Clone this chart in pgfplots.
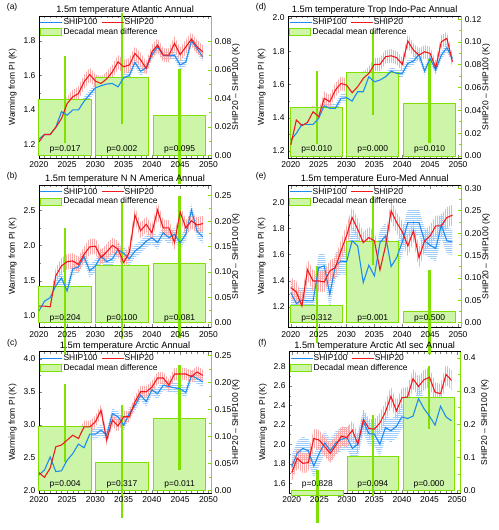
\documentclass[border=0pt]{standalone}
\usepackage{fontspec}
\setmainfont{Liberation Sans}
\usepackage{pgfplots}
\usepackage{pgfplotstable}
\pgfplotsset{compat=1.18}
\usepgfplotslibrary{fillbetween}
\usetikzlibrary{patterns}

\definecolor{cblue}{RGB}{30,140,240}
\definecolor{cred}{RGB}{240,25,30}
\definecolor{bband}{RGB}{160,205,250}
\definecolor{rband}{RGB}{250,172,172}
\definecolor{gline}{RGB}{128,224,0}
\definecolor{gfill}{RGB}{204,245,168}

\pgfdeclarepatterninherentlycolored{hlb}{\pgfqpoint{-1pt}{-1pt}}{\pgfqpoint{11pt}{3pt}}{\pgfqpoint{10pt}{2pt}}{%
  \pgfsetcolor{bband}\pgfsetlinewidth{0.55pt}\pgfpathmoveto{\pgfqpoint{-1pt}{1pt}}\pgfpathlineto{\pgfqpoint{11pt}{1pt}}\pgfusepath{stroke}}
\pgfdeclarepatterninherentlycolored{vlr}{\pgfqpoint{-1pt}{-1pt}}{\pgfqpoint{3pt}{11pt}}{\pgfqpoint{2pt}{10pt}}{%
  \pgfsetcolor{rband}\pgfsetlinewidth{0.55pt}\pgfpathmoveto{\pgfqpoint{1pt}{-1pt}}\pgfpathlineto{\pgfqpoint{1pt}{11pt}}\pgfusepath{stroke}}

\newcommand\fs{\fontsize{8.5}{9}\selectfont}
\newcommand\ft{\fontsize{9.3}{10}\selectfont}

\pgfplotstableread{
yr b r
2020 1.231 1.215
2021 1.258 1.258
2022 1.258 1.258
2023 1.30 1.30
2024 1.39 1.35
2025 1.37 1.437
2026 1.40 1.476
2027 1.40 1.495
2028 1.45 1.563
2029 1.49 1.605
2030 1.528 1.567
2031 1.54 1.553
2032 1.55 1.58
2033 1.553 1.62
2034 1.534 1.678
2035 1.586 1.65
2036 1.60 1.66
2037 1.675 1.727
2038 1.624 1.69
2039 1.644 1.64
2040 1.717 1.736
2041 1.765 1.775
2042 1.717 1.717
2043 1.713 1.717
2044 1.717 1.785
2045 1.66 1.72
2046 1.678 1.765
2047 1.80 1.81
2048 1.755 1.765
2049 1.707 1.736
}\tA

\pgfplotstableread{
yr b r
2020 1.07 1.14
2021 1.21 1.14
2022 1.26 1.13
2023 1.43 1.57
2024 1.54 1.71
2025 1.355 1.77
2026 1.67 1.78
2027 1.695 1.73
2028 1.84 1.875
2029 1.64 1.98
2030 1.71 1.99
2031 1.85 1.83
2032 1.77 1.91
2033 1.81 2.00
2034 1.94 1.95
2035 1.89 1.76
2036 1.81 1.90
2037 1.92 2.43
2038 1.98 2.21
2039 2.06 2.30
2040 2.11 2.18
2041 2.04 2.50
2042 2.18 2.25
2043 2.11 2.25
2044 2.16 2.04
2045 2.04 2.475
2046 2.16 2.25
2047 2.50 2.35
2048 2.20 2.29
2049 2.12 2.31
}\tB

\pgfplotstableread{
yr b r
2020 2.237 2.272
2021 2.31 2.20
2022 2.51 2.34
2023 2.287 2.665
2024 2.30 2.69
2025 2.46 2.766
2026 2.56 2.84
2027 2.705 2.79
2028 2.65 2.967
2029 2.856 2.967
2030 2.856 3.043
2031 2.917 3.22
2032 2.84 2.766
2033 3.17 3.07
2034 3.12 2.98
2035 2.99 3.12
2036 3.17 3.12
2037 3.29 3.345
2038 3.45 3.50
2039 3.35 3.50
2040 3.53 3.57
2041 3.47 3.71
2042 3.60 3.71
2043 3.58 3.60
2044 3.56 3.77
2045 3.545 3.77
2046 3.49 3.77
2047 3.75 3.73
2048 3.70 3.80
2049 3.65 3.75
}\tC

\pgfplotstableread{
yr b r
2020 1.266 1.236
2021 1.306 1.386
2022 1.36 1.352
2023 1.36 1.372
2024 1.36 1.436
2025 1.396 1.406
2026 1.472 1.516
2027 1.456 1.496
2028 1.456 1.566
2029 1.516 1.606
2030 1.52 1.596
2031 1.50 1.55
2032 1.556 1.586
2033 1.556 1.636
2034 1.646 1.666
2035 1.616 1.72
2036 1.626 1.72
2037 1.646 1.766
2038 1.68 1.772
2039 1.666 1.76
2040 1.666 1.72
2041 1.726 1.86
2042 1.74 1.806
2043 1.78 1.776
2044 1.68 1.796
2045 1.756 1.786
2046 1.686 1.70
2047 1.776 1.856
2048 1.82 1.876
2049 1.756 1.736
}\tD

\pgfplotstableread{
yr b r
2020 1.308 1.346
2021 1.223 1.313
2022 1.251 1.205
2023 1.244 1.482
2024 1.244 1.397
2025 1.50 1.397
2026 1.513 1.39
2027 1.295 1.474
2028 1.513 1.50
2029 1.55 1.628
2030 1.544 1.744
2031 1.705 1.885
2032 1.667 1.795
2033 1.385 1.692
2034 1.518 1.731
2035 1.436 1.705
2036 1.692 1.482
2037 1.744 1.667
2038 1.508 1.936
2039 1.577 1.846
2040 1.697 1.774
2041 1.846 1.667
2042 1.846 1.782
2043 1.846 1.577
2044 1.705 1.705
2045 1.672 1.744
2046 1.646 1.82
2047 1.826 1.82
2048 1.705 1.885
2049 1.697 1.903
}\tE

\pgfplotstableread{
yr b r
2020 1.77 1.709
2021 1.907 1.856
2022 1.958 1.805
2023 1.934 1.811
2024 1.777 2.06
2025 1.907 2.043
2026 2.016 1.975
2027 1.934 1.907
2028 2.016 1.99
2029 2.05 2.084
2030 2.07 2.07
2031 1.958 2.145
2032 2.002 2.002
2033 2.23 2.255
2034 2.11 2.162
2035 2.105 2.156
2036 2.00 2.22
2037 2.173 2.333
2038 2.139 2.493
2039 2.186 2.343
2040 2.282 2.48
2041 2.265 2.486
2042 2.289 2.674
2043 2.469 2.595
2044 2.367 2.664
2045 2.289 2.69
2046 2.197 2.537
2047 2.391 2.52
2048 2.282 2.718
2049 2.241 2.657
}\tF

\pgfplotsset{
  common/.style={scale only axis, width=173pt, height=143pt, anchor=south west,
    tick label style={font=\fs}, label style={font=\fs},
    /pgf/number format/assume math mode=true,
    tick align=inside, major tick length=3.5pt, minor tick length=2pt},
  leftcol/.style={xmin=2020, xmax=2050.5},
  rightcol/.style={xmin=2019.5, xmax=2050.6},
  barax/.style={common, axis y line*=right, axis x line=none, clip=false, scaled y ticks=false,
    y axis line style={gline, line width=1.2pt}, ytick style={gline, line width=0.8pt},
    minor y tick num=1,
    yticklabel style={/pgf/number format/fixed, /pgf/number format/fixed zerofill, /pgf/number format/precision=2},
    ylabel={SHIP20 -- SHIP100 (K)},
    ylabel style={at={(axis description cs:1.143,0.5)}, anchor=center}},
  lineax/.style={common, axis line style={line width=0.6pt}, ytick pos=left, scaled y ticks=false,
    xtick={2020,2025,...,2050}, minor x tick num=4, minor y tick num=1,
    xticklabel style={/pgf/number format/1000 sep={}},
    yticklabel style={/pgf/number format/fixed, /pgf/number format/fixed zerofill, /pgf/number format/precision=1},
    ylabel={Warming from PI (K)},
    ylabel style={at={(axis description cs:-0.152,0.5)}, anchor=center},
    legend columns=2, legend cell align=left,
    legend style={at={(axis description cs:0.005,0.985)}, anchor=north west, draw=none, fill=none,
      font=\fs, inner sep=0pt, row sep=1pt, nodes={inner sep=0.6pt},
      /tikz/every even column/.append style={column sep=3pt}}},
  linleg/.style={legend image code/.code={\draw[##1] (0pt,0pt) -- (22pt,0pt);}},
  bars/.style={ybar, bar width=9.3, bar shift=0pt, fill=gfill, draw=gline, line width=0.8pt},
  ebar/.style={gline, line width=2.3pt, unbounded coords=jump},
  bl/.style={cblue, line width=1.1pt, linleg},
  rl/.style={cred, line width=1.1pt, linleg},
  bb/.style={pattern=hlb, draw=none},
  rb/.style={pattern=vlr, draw=none},
  barleg/.style={legend image code/.code={\draw[##1] (0pt,-3.6pt) rectangle (21pt,3.6pt);}},
}

% #1 table, #2 blue half width, #3 red half width
\newcommand\bandlines[3]{%
  \addplot[name path=bu, draw=none, forget plot] table[x=yr, y expr=\thisrow{b}+#2]{#1};
  \addplot[name path=bd, draw=none, forget plot] table[x=yr, y expr=\thisrow{b}-#2]{#1};
  \addplot[bb, forget plot] fill between[of=bu and bd];
  \addplot[name path=ru, draw=none, forget plot] table[x=yr, y expr=\thisrow{r}+#3]{#1};
  \addplot[name path=rd, draw=none, forget plot] table[x=yr, y expr=\thisrow{r}-#3]{#1};
  \addplot[rb, forget plot] fill between[of=ru and rd];
  \addplot[bl] table[x=yr, y=b]{#1}; \addlegendentry{SHIP100}
  \addplot[rl] table[x=yr, y=r]{#1}; \addlegendentry{SHIP20}
  \addlegendimage{barleg, fill=gfill, draw=gline, line width=0.8pt}
  \addlegendentry{\rlap{Decadal mean difference}}
  \draw[gline, line width=1.2pt] (rel axis cs:1,0) -- (rel axis cs:1,1);
}
% p values, letter, title
\newcommand\plab[5]{%
  \node[font=\fs] at ({axis cs:2024.65,0}|-{rel axis cs:0,0.065}) {p=#1};
  \node[font=\fs] at ({axis cs:2034.7,0}|-{rel axis cs:0,0.065}) {p=#2};
  \node[font=\fs] at ({axis cs:2044.9,0}|-{rel axis cs:0,0.065}) {p=#3};
  \node[font=\fs] at (rel axis cs:-0.155,1.06) {#4};
  \node[font=\ft, anchor=base] at (rel axis cs:0.5,1.023) {#5};
}

\begin{document}
\begin{tikzpicture}[x=1pt,y=1pt]

% (a)
\begin{axis}[barax, leftcol, at={(39pt,373pt)}, ymin=-0.002, ymax=0.098, ytick={0,0.02,0.04,0.06,0.08}]
\addplot[bars] coordinates {(2024.65,0.039) (2034.7,0.055) (2044.9,0.028)};
\addplot[ebar] coordinates {(2024.65,0.0086) (2024.65,0.070) (2024.65,nan) (2034.7,0.022) (2034.7,0.100) (2034.7,nan) (2044.9,-0.020) (2044.9,0.061)};
\plab{0.017}{0.002}{0.095}{(a)}{1.5m temperature Atlantic Annual}
\end{axis}
\begin{axis}[lineax, leftcol, at={(39pt,373pt)}, ymin=1.12, ymax=1.945, ytick={1.2,1.4,1.6,1.8}]
\bandlines{\tA}{0.025}{0.04}
\end{axis}

% (b)
\begin{axis}[barax, leftcol, at={(39pt,203pt)}, ymin=-0.01, ymax=0.271, ytick={0,0.05,0.10,0.15,0.20,0.25}]
\addplot[bars] coordinates {(2024.65,0.072) (2034.7,0.112) (2044.9,0.117)};
\addplot[ebar] coordinates {(2024.65,-0.062) (2024.65,0.1875) (2024.65,nan) (2034.7,-0.033) (2034.7,0.237) (2034.7,nan) (2044.9,-0.03) (2044.9,0.249)};
\plab{0.204}{0.100}{0.081}{(b)}{1.5m temperature N N America Annual}
\end{axis}
\begin{axis}[lineax, leftcol, at={(39pt,203pt)}, ymin=0.834, ymax=2.854, ytick={1.0,1.5,2.0,2.5}]
\bandlines{\tB}{0.09}{0.11}
\end{axis}

% (c)
\begin{axis}[barax, leftcol, at={(39pt,37pt)}, height=142pt, ymin=-0.005, ymax=0.2574, ytick={0,0.05,0.10,0.15,0.20,0.25}]
\addplot[bars] coordinates {(2024.65,0.119) (2034.7,0.052) (2044.9,0.133)};
\addplot[ebar] coordinates {(2024.65,0.053) (2024.65,0.198) (2024.65,nan) (2034.7,-0.051) (2034.7,0.158) (2034.7,nan) (2044.9,0.037) (2044.9,0.232)};
\plab{0.004}{0.317}{0.011}{(c)}{1.5m temperature Arctic Annual}
\end{axis}
\begin{axis}[lineax, leftcol, at={(39pt,37pt)}, height=142pt, ymin=1.96, ymax=4.11, ytick={2.0,2.5,3.0,3.5,4.0}]
\bandlines{\tC}{0.08}{0.09}
\end{axis}

% (d)
\begin{axis}[barax, rightcol, at={(289pt,373pt)}, width=174pt, ymin=-0.002, ymax=0.123, ytick={0,0.02,0.04,0.06,0.08,0.10,0.12}]
\addplot[bars] coordinates {(2024.65,0.043) (2034.7,0.0737) (2044.9,0.0465)};
\addplot[ebar] coordinates {(2024.65,0.0108) (2024.65,0.0743) (2024.65,nan) (2034.7,0.0363) (2034.7,0.110) (2034.7,nan) (2044.9,0.0117) (2044.9,0.0855)};
\plab{0.010}{0.000}{0.010}{(d)}{1.5m temperature Trop Indo-Pac Annual}
\end{axis}
\begin{axis}[lineax, rightcol, at={(289pt,373pt)}, width=174pt, ymin=1.156, ymax=2.012, ytick={1.2,1.4,1.6,1.8,2.0}]
\bandlines{\tD}{0.025}{0.04}
\end{axis}

% (e)
\begin{axis}[barax, rightcol, at={(289pt,203pt)}, width=174pt, ymin=-0.011, ymax=0.307, ytick={0,0.05,0.10,0.15,0.20,0.25,0.30}]
\addplot[bars] coordinates {(2024.65,0.0387) (2034.7,0.182) (2044.9,0.026)};
\addplot[ebar] coordinates {(2024.65,-0.045) (2024.65,0.127) (2024.65,nan) (2034.7,0.13) (2034.7,0.283) (2034.7,nan) (2044.9,-0.07) (2044.9,0.118)};
\plab{0.312}{0.001}{0.500}{(e)}{1.5m temperature Euro-Med Annual}
\end{axis}
\begin{axis}[lineax, rightcol, at={(289pt,203pt)}, width=174pt, ymin=1.038, ymax=2.133, ytick={1.2,1.4,1.6,1.8,2.0}]
\bandlines{\tE}{0.1}{0.08}
\end{axis}

% (f)
\begin{axis}[barax, rightcol, at={(290pt,37pt)}, width=172pt, height=142pt, ymin=-0.008, ymax=0.419, ytick={0,0.1,0.2,0.3,0.4},
  yticklabel style={/pgf/number format/precision=1}]
\addplot[bars] coordinates {(2024.65,-0.015) (2034.7,0.104) (2044.9,0.282)};
\addplot[ebar] coordinates {(2024.65,-0.098) (2024.65,0.062) (2024.65,nan) (2034.7,-0.016) (2034.7,0.227) (2034.7,nan) (2044.9,0.187) (2044.9,0.377)};
\plab{0.828}{0.094}{0.000}{(f)}{1.5m temperature Arctic Atl sec Annual}
\end{axis}
\begin{axis}[lineax, rightcol, at={(290pt,37pt)}, width=172pt, height=142pt, ymin=1.498, ymax=2.953, ytick={1.6,1.8,2.0,2.2,2.4,2.6,2.8}]
\bandlines{\tF}{0.12}{0.10}
\end{axis}

\path (0,0) rectangle (500,530);
\end{tikzpicture}
\end{document}
